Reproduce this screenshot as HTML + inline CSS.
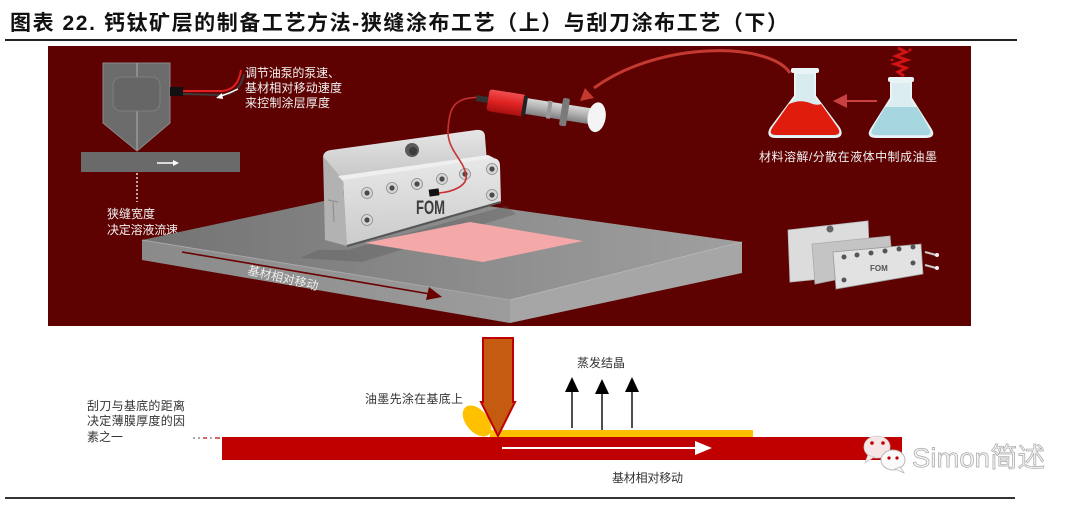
<!DOCTYPE html>
<html><head><meta charset="utf-8">
<style>
html,body{margin:0;padding:0;background:#fff;}
body{width:1080px;height:505px;overflow:hidden;}
svg{display:block;}
text{font-family:"Liberation Sans","Noto Sans CJK SC",sans-serif;}
</style></head>
<body>
<svg width="1080" height="505" viewBox="0 0 1080 505" xmlns="http://www.w3.org/2000/svg">
<defs>
<linearGradient id="gTop" x1="142" y1="0" x2="742" y2="0" gradientUnits="userSpaceOnUse">
<stop offset="0" stop-color="#737373"/><stop offset="0.5" stop-color="#8a8a8a"/><stop offset="1" stop-color="#a0a0a0"/>
</linearGradient>
<linearGradient id="gLeft" x1="142" y1="0" x2="510" y2="0" gradientUnits="userSpaceOnUse">
<stop offset="0" stop-color="#8a8a8a"/><stop offset="1" stop-color="#9c9c9c"/>
</linearGradient>
<linearGradient id="gBack" x1="0" y1="130" x2="0" y2="182" gradientUnits="userSpaceOnUse">
<stop offset="0" stop-color="#e6e6e6"/><stop offset="1" stop-color="#c4c4c4"/>
</linearGradient>
<linearGradient id="gFront" x1="0" y1="158" x2="0" y2="246" gradientUnits="userSpaceOnUse">
<stop offset="0" stop-color="#e8e8e8"/><stop offset="1" stop-color="#cbcbcb"/>
</linearGradient>
<linearGradient id="gRed" x1="0" y1="-11" x2="0" y2="11" gradientUnits="userSpaceOnUse">
<stop offset="0" stop-color="#f05050"/><stop offset="0.5" stop-color="#e02222"/><stop offset="1" stop-color="#a81010"/>
</linearGradient>
<linearGradient id="gGray" x1="0" y1="-8" x2="0" y2="8" gradientUnits="userSpaceOnUse">
<stop offset="0" stop-color="#d8d8d8"/><stop offset="0.5" stop-color="#b0b0b0"/><stop offset="1" stop-color="#808080"/>
</linearGradient>
</defs>

<!-- Title -->
<text x="10" y="30" font-size="21" font-weight="700" fill="#111" textLength="778" lengthAdjust="spacing">图表 22. 钙钛矿层的制备工艺方法-狭缝涂布工艺（上）与刮刀涂布工艺（下）</text>
<rect x="5" y="39" width="1012" height="2" fill="#222"/>

<!-- Dark red panel -->
<rect x="48" y="46" width="923" height="280" fill="#5e0101"/>

<!-- Inset: slot die schematic -->
<polygon points="103,63 170,63 170,123 137,151 103,123" fill="#6c6c6c" stroke="#8a8a8a" stroke-width="1"/>
<line x1="137" y1="63" x2="137" y2="150" stroke="#b0b0b0" stroke-width="1"/>
<rect x="113" y="77" width="47" height="34" rx="8" fill="#666" stroke="#7d7d7d" stroke-width="1"/>
<rect x="81" y="152" width="159" height="20" fill="#6a6a6a"/>
<line x1="157" y1="163" x2="174" y2="163" stroke="#fff" stroke-width="1.5"/>
<polygon points="173,160 179,163 173,166" fill="#fff"/>
<line x1="137" y1="173" x2="137" y2="202" stroke="#ddd" stroke-width="1.5" stroke-dasharray="2,2"/>
<rect x="170" y="87" width="13" height="9" fill="#111"/>
<path d="M183,94 L222,95 Q240,94 244,74" fill="none" stroke="#3a3a3a" stroke-width="2"/>
<path d="M183,91 L222,91 Q238,90 241,70" fill="none" stroke="#e02020" stroke-width="2"/>
<path d="M238,89 Q230,93 221,96" fill="none" stroke="#fff" stroke-width="1.5"/>
<polygon points="216,98 222,93 223,99" fill="#fff"/>
<g font-size="12" fill="#f2f2f2">
<text x="245" y="77" textLength="95" lengthAdjust="spacing">调节油泵的泵速、</text>
<text x="245" y="92" textLength="97" lengthAdjust="spacing">基材相对移动速度</text>
<text x="245" y="107" textLength="85" lengthAdjust="spacing">来控制涂层厚度</text>
<text x="107" y="218" textLength="48" lengthAdjust="spacing">狭缝宽度</text>
<text x="107" y="234" textLength="71" lengthAdjust="spacing">决定溶液流速</text>
</g>

<!-- Plate -->
<polygon points="142,240 375,190 742,242 510,300" fill="url(#gTop)"/>
<polygon points="142,240 510,300 510,323 142,260" fill="url(#gLeft)"/>
<polygon points="510,300 742,242 742,273 510,323" fill="#a6a6a6"/>
<line x1="142" y1="240" x2="510" y2="300" stroke="#a8a8a8" stroke-width="1"/>
<line x1="510" y1="300" x2="742" y2="242" stroke="#b4b4b4" stroke-width="1"/>
<!-- shadow near die -->
<polygon points="318,250 348,250 506,206 516,214 362,262 300,258" fill="#555" opacity="0.35"/>
<!-- pink coating -->
<polygon points="365,243 470,222 583,241 483,262" fill="#f4a8a8"/>
<!-- arrow on plate -->
<line x1="182" y1="252" x2="430" y2="294" stroke="#6a0000" stroke-width="1.6"/>
<polygon points="442,297 426,300 429,287" fill="#6a0000"/>
<text x="247" y="274" font-size="12" fill="#eeeeee" transform="rotate(13 247 274)" textLength="72" lengthAdjust="spacing">基材相对移动</text>

<!-- Die block -->
<path d="M323,158 Q323,151 331,150 L476,130 Q485,129 485,137 L487,162 L343,182 Z" fill="url(#gBack)"/>
<circle cx="412" cy="150" r="7" fill="#5a5a5a"/>
<circle cx="413" cy="151" r="4" fill="#3c3c3c"/>
<path d="M323,156 L343,180 L347,246 L325,240 Z" fill="#b2b2b2"/>
<line x1="328" y1="200" x2="338" y2="202" stroke="#8a8a8a" stroke-width="1"/>
<line x1="333" y1="202" x2="334" y2="222" stroke="#8a8a8a" stroke-width="1"/>
<path d="M338,176 L488,155 L494,158 L343,181 Z" fill="#efefef"/>
<path d="M343,180 L492,158 Q500,158 500,166 L501,202 L347,246 Z" fill="url(#gFront)"/>
<line x1="347" y1="246" x2="501" y2="202" stroke="#555" stroke-width="2"/>
<g fill="#d6d6d6" stroke="#8a8a8a" stroke-width="0.8">
<circle cx="367" cy="193" r="5.5"/><circle cx="392" cy="188" r="5.5"/><circle cx="417" cy="184" r="5.5"/>
<circle cx="442" cy="179" r="5.5"/><circle cx="465" cy="174" r="5.5"/><circle cx="492" cy="169" r="5.5"/>
<circle cx="492" cy="195" r="5.5"/><circle cx="367" cy="220" r="5.5"/>
</g>
<g fill="#4a4a4a">
<circle cx="367" cy="193" r="2.6"/><circle cx="392" cy="188" r="2.6"/><circle cx="417" cy="184" r="2.6"/>
<circle cx="442" cy="179" r="2.6"/><circle cx="465" cy="174" r="2.6"/><circle cx="492" cy="169" r="2.6"/>
<circle cx="492" cy="195" r="2.6"/><circle cx="367" cy="220" r="2.6"/>
</g>
<text x="416" y="214" font-size="19" font-weight="700" fill="#3c3c3c" textLength="29" lengthAdjust="spacingAndGlyphs">FOM</text>
<rect x="429" y="189" width="10" height="7" fill="#111" transform="rotate(-8 434 192)"/>
<path d="M439,193 C452,192 468,186 466,175 C464,160 447,150 448,130 C449,112 452,100 470,98 L480,97" fill="none" stroke="#c83232" stroke-width="1.6"/>

<!-- Syringe -->
<g transform="translate(488 100) rotate(9)">
<rect x="-12" y="-3" width="12" height="6" fill="#333"/>
<rect x="0" y="-11" width="37" height="22" rx="3" fill="url(#gRed)"/>
<rect x="35" y="-10" width="4" height="20" fill="#222"/>
<rect x="39" y="-8" width="64" height="16" fill="url(#gGray)"/>
<rect x="74" y="-14" width="7" height="28" rx="2" fill="#7a7a7a"/>
<rect x="60" y="-9" width="4" height="18" fill="#999"/>
<ellipse cx="110" cy="0" rx="9" ry="15" fill="#f4f4f4"/>
</g>

<!-- Curved red arrow from flask to syringe -->
<path d="M790,73 C770,42 660,40 594,88" fill="none" stroke="#c53a30" stroke-width="3"/>
<polygon points="580,101 585,88 594,98" fill="#c53a30"/>

<!-- Red flask -->
<path d="M795,73 L795,96 L771,128 Q766,137 776,137 L834,137 Q844,137 839,128 L815,96 L815,73 Z" fill="#d8ecf0" stroke="#e8f4f6" stroke-width="2"/>
<path d="M789,104 Q800,99 810,103 Q817,106 821,104 L838,128 Q842,135 834,135 L776,135 Q768,135 772,128 Z" fill="#e01c0c"/>
<rect x="791" y="68" width="28" height="5" rx="2" fill="#e8f4f6"/>
<!-- Blue flask -->
<path d="M891,82 L891,98 L872,128 Q866,137 876,137 L926,137 Q936,137 930,128 L911,98 L911,82 Z" fill="#dcedf1" stroke="#e8f4f6" stroke-width="2"/>
<path d="M885,107 L917,107 L929,128 Q933,135 926,135 L876,135 Q869,135 873,128 Z" fill="#a6d6df"/>
<rect x="888" y="77" width="26" height="5" rx="2" fill="#e8f4f6"/>
<!-- smoke -->
<path d="M898,48 L906,52 L896,56 L907,60 L895,64 L906,68 L898,72 L904,76" fill="none" stroke="#d01414" stroke-width="3"/>
<circle cx="910" cy="50" r="1.5" fill="#d01414"/><circle cx="892" cy="60" r="1.3" fill="#d01414"/>
<!-- arrow between flasks -->
<line x1="877" y1="101" x2="845" y2="101" stroke="#c84040" stroke-width="2"/>
<polygon points="833,101 847,94 847,108" fill="#c84040"/>
<text x="759" y="161" font-size="12" fill="#f0f0f0" textLength="178" lengthAdjust="spacing">材料溶解/分散在液体中制成油墨</text>

<!-- Small exploded die -->
<polygon points="788,230 868,221 870,274 790,282" fill="#dcdcdc" stroke="#bbb" stroke-width="0.8"/>
<circle cx="830" cy="229" r="3.5" fill="#666"/>
<polygon points="812,244 890,236 893,268 815,284" fill="#c4c4c4" stroke="#aaa" stroke-width="0.8"/>
<polygon points="833,252 921,244 923,274 836,289" fill="#e2e2e2" stroke="#999" stroke-width="0.8"/>
<g fill="#555">
<circle cx="844" cy="257" r="2.5"/><circle cx="857" cy="255" r="2.5"/><circle cx="871" cy="253" r="2.5"/>
<circle cx="885" cy="251" r="2.5"/><circle cx="899" cy="249" r="2.5"/><circle cx="913" cy="247" r="2.5"/>
<circle cx="913" cy="263" r="2.5"/><circle cx="844" cy="280" r="2.5"/>
</g>
<text x="870" y="271" font-size="8" font-weight="700" fill="#555">FOM</text>
<line x1="925" y1="252" x2="936" y2="255" stroke="#ccc" stroke-width="2"/>
<line x1="925" y1="265" x2="936" y2="268" stroke="#ccc" stroke-width="2"/>
<circle cx="937" cy="255" r="2" fill="#eee"/><circle cx="937" cy="268" r="2" fill="#eee"/>

<!-- Bottom: blade coating -->
<ellipse cx="477" cy="421" rx="18" ry="11" transform="rotate(50 477 421)" fill="#ffc000"/>
<rect x="490" y="430" width="263" height="8" fill="#ffc000"/>
<rect x="222" y="437" width="680" height="23" fill="#c00000"/>
<path d="M483,338 L513,338 L513,402 L515,402 L498,436 L481,402 L483,402 Z" fill="#c55a11" stroke="#c00000" stroke-width="2" stroke-linejoin="miter"/>
<line x1="502" y1="448" x2="697" y2="448" stroke="#fff" stroke-width="2"/>
<polygon points="695,441 712,448 695,455" fill="#fff"/>
<g fill="#aaa">
<rect x="193" y="437" width="2" height="2"/><rect x="198" y="437" width="2" height="2"/>
<rect x="203" y="437" width="4" height="2" fill="#d66"/><rect x="210" y="437" width="2" height="2"/>
<rect x="215" y="437" width="5" height="2" fill="#d66"/>
</g>
<g stroke="#222" stroke-width="1.6">
<line x1="572" y1="428" x2="572" y2="390"/>
<line x1="602" y1="430" x2="602" y2="392"/>
<line x1="632" y1="428" x2="632" y2="390"/>
</g>
<g fill="#000">
<polygon points="572,377 579,392 565,392"/>
<polygon points="602,379 609,394 595,394"/>
<polygon points="632,377 639,392 625,392"/>
</g>
<g font-size="12" fill="#333">
<text x="577" y="367" textLength="48" lengthAdjust="spacing">蒸发结晶</text>
<text x="365" y="403" textLength="98" lengthAdjust="spacing">油墨先涂在基底上</text>
<text x="87" y="410" textLength="98" lengthAdjust="spacing">刮刀与基底的距离</text>
<text x="87" y="425" textLength="98" lengthAdjust="spacing">决定薄膜厚度的因</text>
<text x="87" y="441" textLength="36" lengthAdjust="spacing">素之一</text>
<text x="612" y="482" textLength="71" lengthAdjust="spacing">基材相对移动</text>
</g>

<!-- Watermark -->
<g>
<ellipse cx="877" cy="447" rx="13" ry="11" fill="#f6e6e6" stroke="#ccc" stroke-width="0.8"/>
<polygon points="868,455 865,463 874,457" fill="#f6e6e6" stroke="#ccc" stroke-width="0.8"/>
<ellipse cx="893" cy="460" rx="12" ry="10" fill="#fafafa" stroke="#bbb" stroke-width="1"/>
<polygon points="900,467 904,473 895,469" fill="#fafafa" stroke="#bbb" stroke-width="0.8"/>
<circle cx="872" cy="443" r="1.8" fill="#c00000"/><circle cx="883" cy="443" r="1.8" fill="#c00000"/>
<circle cx="889" cy="458" r="1.6" fill="#c00000"/><circle cx="897" cy="458" r="1.6" fill="#c00000"/>
<text x="912" y="467" font-size="27" fill="#f4f4f4" stroke="#a8a8a8" stroke-width="0.7" textLength="133" lengthAdjust="spacingAndGlyphs">Simon简述</text>
</g>

<rect x="5" y="497" width="1010" height="2" fill="#333"/>
</svg>
</body></html>
